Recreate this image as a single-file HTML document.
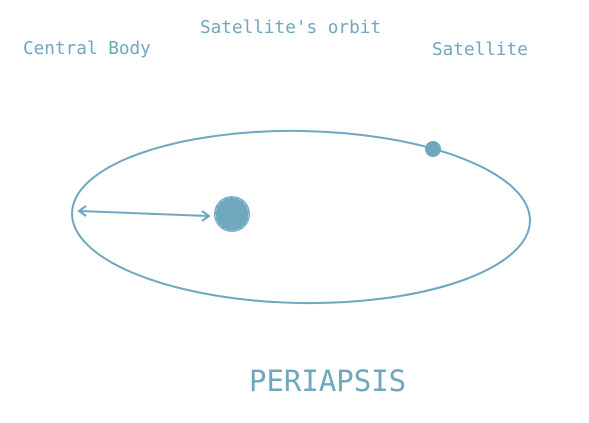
<!DOCTYPE html>
<html><head><meta charset="utf-8"><style>
html,body{margin:0;padding:0;background:#fff;width:589px;height:423px;overflow:hidden}
svg text{font-family:"DejaVu Sans Mono","Liberation Mono",monospace;fill:#6fa7bf}
</style></head><body>
<svg width="589" height="423" viewBox="0 0 589 423">
<text x="23" y="54" font-size="17.7">Central Body</text>
<text x="200" y="33" font-size="17.7">Satellite's orbit</text>
<text x="432" y="55" font-size="17.7">Satellite</text>
<ellipse cx="301" cy="217" rx="229" ry="86" transform="rotate(1 301 217)" fill="none" stroke="#6fa7bf" stroke-width="2"/>
<line x1="79" y1="211" x2="208" y2="216" stroke="#6fa7bf" stroke-width="2"/>
<polyline points="86,206 79,211 86,216" fill="none" stroke="#6fa7bf" stroke-width="2"/>
<polyline points="202,211 209,216 202,221" fill="none" stroke="#6fa7bf" stroke-width="2"/>
<circle cx="232" cy="214" r="18" fill="#6fa7bf"/>
<circle cx="232" cy="214" r="16.5" fill="none" stroke="#a9cddb" stroke-width="0.8" stroke-dasharray="4 2"/>
<circle cx="433" cy="149" r="8" fill="#6fa7bf"/>
<text x="249" y="391" font-size="29">PERIAPSIS</text>
</svg>
</body></html>
